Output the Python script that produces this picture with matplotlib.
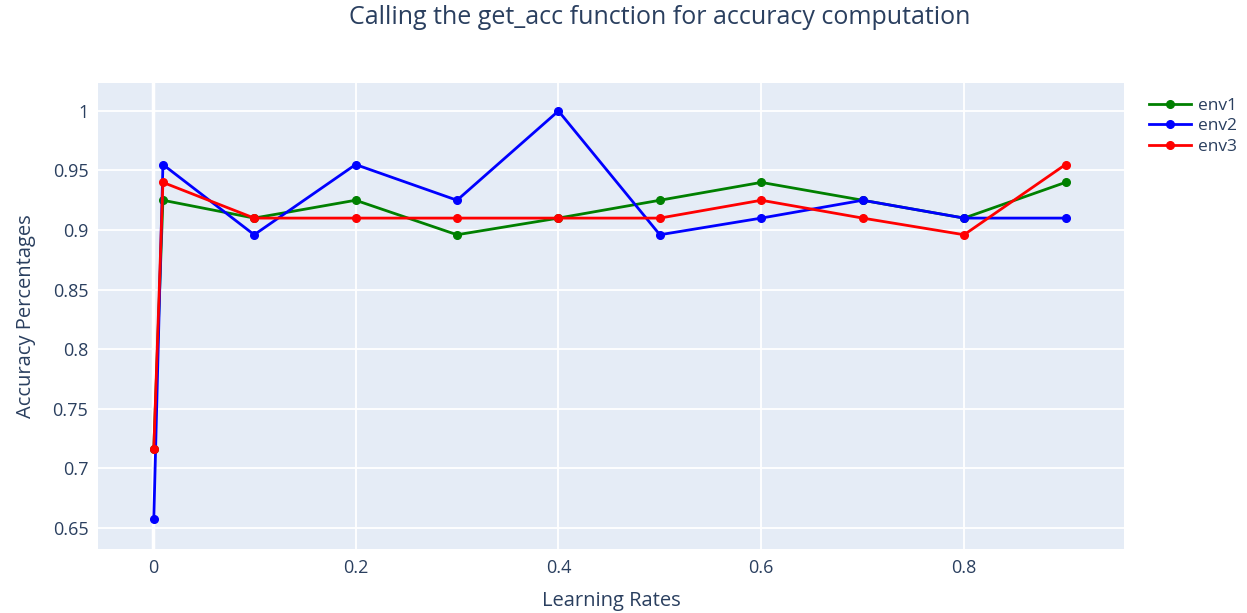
import matplotlib
matplotlib.use("Agg")
import matplotlib.pyplot as plt

# learning rates and accuracy per environment
learning_rates = [0.001, 0.01, 0.1, 0.2, 0.3, 0.4, 0.5, 0.6, 0.7, 0.8, 0.9]
env1 = [0.716, 0.925, 0.910, 0.925, 0.896, 0.910, 0.925, 0.940, 0.925, 0.910, 0.940]
env2 = [0.657, 0.955, 0.896, 0.955, 0.925, 1.000, 0.896, 0.910, 0.925, 0.910, 0.910]
env3 = [0.716, 0.940, 0.910, 0.910, 0.910, 0.910, 0.910, 0.925, 0.910, 0.896, 0.955]

series = {"env1": (env1, "green"), "env2": (env2, "blue"), "env3": (env3, "red")}

plt.rcParams['font.family'] = ['Open Sans', 'DejaVu Sans']
text_color = "#2a3f5f"

fig = plt.figure(figsize=(12.47, 6.13), dpi=100)
ax = fig.add_axes([0.0786, 0.1044, 0.8227, 0.7602])
ax.set_facecolor("#E5ECF6")

for name, (vals, col) in series.items():
    ax.plot(learning_rates, vals, color=col, lw=2, marker="o", ms=5.5, label=name, zorder=3)

ax.set_xlim(-0.054, 0.9576)
ax.set_ylim(0.632, 1.0235)
ax.set_xticks([0, 0.2, 0.4, 0.6, 0.8])
ax.set_xticklabels(["0", "0.2", "0.4", "0.6", "0.8"])
ax.set_yticks([0.65, 0.7, 0.75, 0.8, 0.85, 0.9, 0.95, 1])
ax.set_yticklabels(["0.65", "0.7", "0.75", "0.8", "0.85", "0.9", "0.95", "1"])
ax.grid(True, color="white", lw=1.3, zorder=0)
ax.axvline(0, color="white", lw=2.5, zorder=1)
for s in ax.spines.values():
    s.set_visible(False)
ax.tick_params(length=0, labelsize=13, colors=text_color, pad=7)

ax.set_xlabel("Learning Rates", fontsize=14.5, color=text_color, labelpad=10)
ax.set_ylabel("Accuracy Percentages", fontsize=14.5, color=text_color, labelpad=12)
fig.text(0.529, 0.972, "Calling the get_acc function for accuracy computation",
         ha="center", va="center", fontsize=18, color=text_color)

leg = ax.legend(loc="upper left", bbox_to_anchor=(1.01, 1.0), frameon=False,
                fontsize=12.5, handlelength=2.4, handletextpad=0.45, labelcolor=text_color,
                borderaxespad=0.45, labelspacing=0.25)

fig.savefig("out.png", dpi=100)
